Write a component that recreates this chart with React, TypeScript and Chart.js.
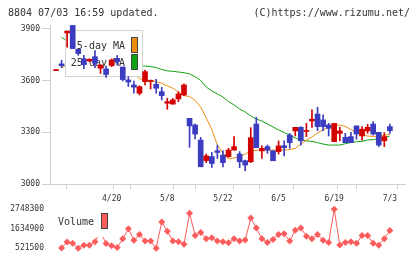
import React, { useEffect, useRef } from 'react';
import { Chart, registerables } from 'chart.js';

Chart.register(...registerables);

const FONT = '"DejaVu Sans Mono", monospace';
const RED = 'rgb(212,0,0)';
const BLUE = 'rgb(60,60,192)';
const ORANGE = 'rgb(240,140,16)';
const GREEN = 'rgb(16,165,16)';
const VOL = 'rgb(252,92,92)';
const AXIS = '#cfcfcf';
const TEXT = '#333';

// Daily candles; the first entry is the session before day 0
const candleOpen = [3658, 3697, 3877, 3920, 3782, 3727, 3714, 3739, 3672, 3668, 3688, 3729, 3679, 3604, 3575, 3527, 3594, 3595, 3579, 3536, 3469, 3464, 3494, 3517, 3381, 3343, 3255, 3136, 3159, 3193, 3168, 3159, 3197, 3174, 3135, 3129, 3348, 3192, 3217, 3193, 3188, 3222, 3284, 3308, 3329, 3305, 3366, 3406, 3372, 3343, 3246, 3294, 3271, 3275, 3337, 3279, 3308, 3348, 3300, 3251, 3333];
const candleHigh = [3662, 3718, 3887, 3920, 3782, 3747, 3727, 3775, 3691, 3685, 3726, 3746, 3679, 3624, 3598, 3570, 3662, 3604, 3608, 3561, 3498, 3498, 3536, 3581, 3381, 3348, 3271, 3174, 3183, 3226, 3192, 3207, 3275, 3188, 3139, 3327, 3387, 3221, 3226, 3193, 3250, 3250, 3294, 3329, 3333, 3352, 3430, 3445, 3401, 3352, 3352, 3329, 3294, 3300, 3337, 3333, 3347, 3362, 3300, 3298, 3348];
const candleLow = [3658, 3675, 3795, 3786, 3747, 3669, 3710, 3675, 3642, 3618, 3681, 3691, 3598, 3566, 3527, 3517, 3575, 3552, 3527, 3488, 3434, 3464, 3478, 3513, 3213, 3261, 3100, 3124, 3096, 3148, 3099, 3155, 3197, 3095, 3077, 3124, 3211, 3149, 3178, 3135, 3174, 3163, 3207, 3279, 3226, 3275, 3329, 3309, 3309, 3279, 3246, 3251, 3240, 3240, 3260, 3255, 3294, 3284, 3217, 3217, 3294];
const candleClose = [3662, 3687, 3887, 3786, 3757, 3693, 3724, 3701, 3691, 3636, 3720, 3711, 3606, 3592, 3562, 3565, 3652, 3600, 3556, 3513, 3478, 3488, 3523, 3575, 3337, 3290, 3100, 3163, 3119, 3183, 3124, 3197, 3217, 3129, 3110, 3269, 3211, 3207, 3197, 3135, 3221, 3211, 3240, 3329, 3251, 3311, 3376, 3333, 3333, 3323, 3352, 3308, 3240, 3240, 3290, 3318, 3329, 3290, 3226, 3275, 3309];

const ma5 = [3675, 3690, 3720, 3740, 3762, 3769, 3732, 3713, 3689, 3694, 3692, 3673, 3653, 3638, 3612, 3604, 3600, 3594, 3585, 3569, 3556, 3534, 3513, 3508, 3485, 3447, 3383, 3316, 3226, 3180, 3145, 3151, 3159, 3174, 3192, 3195, 3197, 3197, 3197, 3197, 3197, 3200, 3206, 3232, 3255, 3273, 3296, 3314, 3331, 3340, 3343, 3334, 3316, 3299, 3285, 3279, 3276, 3278, 3282, 3290];
const ma25 = [3851, 3830, 3822, 3814, 3804, 3793, 3782, 3771, 3760, 3749, 3737, 3723, 3708, 3697, 3688, 3684, 3682, 3676, 3665, 3657, 3654, 3650, 3646, 3639, 3623, 3601, 3563, 3540, 3523, 3505, 3479, 3459, 3435, 3418, 3395, 3377, 3366, 3348, 3331, 3314, 3299, 3284, 3267, 3255, 3250, 3247, 3240, 3232, 3226, 3226, 3226, 3234, 3241, 3245, 3248, 3255, 3258, 3262, 3270, 3279];

const volume = [530000, 875000, 802000, 521500, 690000, 690000, 897000, 1450000, 790000, 660000, 560000, 1065000, 1635000, 970000, 1307000, 931000, 931000, 525000, 2019000, 1492000, 931000, 897000, 746000, 2524000, 1251000, 1420000, 1065000, 1121000, 931000, 897000, 830000, 1065000, 931000, 987000, 2243000, 1682000, 1065000, 841000, 1026000, 1307000, 1345000, 931000, 1548000, 1682000, 1212000, 1065000, 1307000, 970000, 841000, 2748300, 707000, 841000, 897000, 802000, 1251000, 1251000, 802000, 690000, 1065000, 1531000];

const dateLabels = ['4/20', '5/8', '5/22', '6/5', '6/19', '7/3'];
const dateDays = [9, 19, 29, 39, 49, 59];
const priceTicks = [3000, 3300, 3600, 3900];
const volumeTicks = [521500, 1634900, 2748300];

const X_MIN = -2.08;
const X_MAX = 61.72;
const X_DIVISIONS = 11;

function MainChart() {
  const ref = useRef<HTMLCanvasElement>(null);
  useEffect(() => {
    if (!ref.current) return;
    const xs = candleOpen.map((_, i) => i - 1);
    const colors = candleOpen.map((o, i) => (candleClose[i] >= o ? RED : BLUE));
    const gridTicks: number[] = [];
    for (let k = 0; k <= X_DIVISIONS; k++) gridTicks.push(X_MIN + ((X_MAX - X_MIN) * k) / X_DIVISIONS);
    const isLabel = (v: number) => dateDays.some((d) => Math.abs(d - v) < 1e-6);

    const legendPlugin = {
      id: 'maLegend',
      beforeDatasetDraw(chart: any, args: any) {
        if (args.index !== 1) return;
        const ctx = chart.ctx;
        ctx.save();
        ctx.fillStyle = '#fff';
        ctx.fillRect(65, 30, 78, 47);
        ctx.strokeStyle = '#d4d4d4';
        ctx.lineWidth = 1;
        ctx.strokeRect(65.5, 30.5, 77, 46);
        ctx.font = `10px ${FONT}`;
        ctx.fillStyle = TEXT;
        ctx.textAlign = 'right';
        ctx.textBaseline = 'middle';
        ctx.fillText('5-day MA', 125, 46);
        ctx.fillText('25-day MA', 125, 63);
        ctx.fillStyle = ORANGE;
        ctx.fillRect(131.5, 37.5, 6, 15);
        ctx.fillStyle = GREEN;
        ctx.fillRect(131.5, 54.5, 6, 15);
        ctx.strokeStyle = '#444';
        ctx.strokeRect(131.5, 37.5, 6, 15);
        ctx.strokeRect(131.5, 54.5, 6, 15);
        ctx.restore();
      },
    };

    const chart = new Chart(ref.current, {
      type: 'bar',
      data: {
        datasets: [
          {
            type: 'bar',
            data: xs.map((x, i) => ({ x, y: [candleOpen[i], candleClose[i]] })) as any,
            backgroundColor: colors,
            barThickness: 5,
            grouped: false,
            borderWidth: 0,
            minBarLength: 1,
          },
          {
            type: 'bar',
            data: xs.map((x, i) => ({ x, y: [candleLow[i], candleHigh[i]] })) as any,
            backgroundColor: colors,
            barThickness: 1,
            grouped: false,
            borderWidth: 0,
            minBarLength: 1,
          },
          {
            type: 'line',
            data: ma5.map((v, i) => ({ x: i, y: v })) as any,
            borderColor: ORANGE,
            borderWidth: 1,
            pointRadius: 0,
            tension: 0,
          },
          {
            type: 'line',
            data: ma25.map((v, i) => ({ x: i, y: v })) as any,
            borderColor: GREEN,
            borderWidth: 1,
            pointRadius: 0,
            tension: 0,
          },
        ] as any,
      },
      options: {
        animation: false,
        responsive: false,
        maintainAspectRatio: false,
        events: [],
        layout: { padding: { top: 25, right: 15, left: 0, bottom: 0 } },
        plugins: { legend: { display: false }, tooltip: { enabled: false } },
        scales: {
          x: {
            type: 'linear',
            min: X_MIN,
            max: X_MAX,
            bounds: 'data',
            offset: false,
            afterBuildTicks: (s: any) => {
              const all = [...gridTicks, ...dateDays].sort((a, b) => a - b);
              s.ticks = all.map((v) => ({ value: v }));
            },
            afterFit: (s: any) => {
              s.height = 21;
            },
            grid: {
              drawOnChartArea: false,
              drawTicks: true,
              tickLength: 5,
              color: (c: any) => (c.tick && isLabel(c.tick.value) ? 'rgba(0,0,0,0)' : AXIS),
            },
            border: { display: true, color: AXIS },
            ticks: {
              autoSkip: false,
              maxRotation: 0,
              padding: 5,
              color: TEXT,
              font: { family: FONT, size: 8 },
              callback: (v: any) => {
                const j = dateDays.findIndex((d) => Math.abs(d - v) < 1e-6);
                return j >= 0 ? dateLabels[j] : '';
              },
            },
          } as any,
          y: {
            type: 'linear',
            min: 3000,
            max: 3923,
            bounds: 'data',
            afterBuildTicks: (s: any) => {
              s.ticks = priceTicks.map((v) => ({ value: v }));
            },
            afterFit: (s: any) => {
              s.width = 50;
            },
            grid: { drawOnChartArea: false, drawTicks: true, tickLength: 8, color: AXIS },
            border: { display: true, color: AXIS },
            ticks: { padding: 2, color: TEXT, font: { family: FONT, size: 8 }, callback: (v: any) => String(v) },
          } as any,
        },
      },
      plugins: [legendPlugin],
    });
    return () => chart.destroy();
  }, []);
  return (
    <canvas
      ref={ref}
      width={420}
      height={205}
      style={{ position: 'absolute', left: 0, top: 0, width: 420, height: 205 }}
    />
  );
}

function VolumeChart() {
  const ref = useRef<HTMLCanvasElement>(null);
  useEffect(() => {
    if (!ref.current) return;
    const legendPlugin = {
      id: 'volLegend',
      afterDatasetsDraw(chart: any) {
        const ctx = chart.ctx;
        ctx.save();
        ctx.fillStyle = '#fff';
        ctx.fillRect(54, 10, 56, 32);
        ctx.font = `10px ${FONT}`;
        ctx.fillStyle = TEXT;
        ctx.textAlign = 'left';
        ctx.textBaseline = 'middle';
        ctx.fillText('Volume', 58, 27.5);
        ctx.fillStyle = VOL;
        ctx.fillRect(101.5, 18.5, 6, 15);
        ctx.strokeStyle = '#444';
        ctx.lineWidth = 1;
        ctx.strokeRect(101.5, 18.5, 6, 15);
        ctx.restore();
      },
    };
    const chart = new Chart(ref.current, {
      type: 'line',
      data: {
        datasets: [
          {
            data: volume.map((v, i) => ({ x: i, y: v })) as any,
            borderColor: VOL,
            backgroundColor: VOL,
            borderWidth: 1,
            pointStyle: 'rectRot',
            pointRadius: 3.5,
            pointBackgroundColor: VOL,
            pointBorderWidth: 0,
            tension: 0,
            clip: false as any,
          },
        ],
      },
      options: {
        animation: false,
        responsive: false,
        maintainAspectRatio: false,
        events: [],
        layout: { padding: { top: 14, right: 15, left: 0, bottom: 10 } },
        plugins: { legend: { display: false }, tooltip: { enabled: false } },
        scales: {
          x: { type: 'linear', min: X_MIN, max: X_MAX, bounds: 'data', display: false } as any,
          y: {
            type: 'linear',
            min: 521500,
            max: 2765100,
            bounds: 'data',
            afterBuildTicks: (s: any) => {
              s.ticks = volumeTicks.map((v) => ({ value: v }));
            },
            afterFit: (s: any) => {
              s.width = 50;
            },
            grid: { display: false, drawTicks: false },
            border: { display: false },
            ticks: { padding: 6, color: TEXT, font: { family: FONT, size: 8 }, callback: (v: any) => String(v) },
          } as any,
        },
      },
      plugins: [legendPlugin],
    });
    return () => chart.destroy();
  }, []);
  return (
    <canvas
      ref={ref}
      width={420}
      height={64}
      style={{ position: 'absolute', left: 0, top: 195, width: 420, height: 64 }}
    />
  );
}

export default function App() {
  const titleStyle: React.CSSProperties = {
    position: 'absolute',
    top: 6,
    fontFamily: FONT,
    fontSize: 10,
    lineHeight: '13px',
    color: TEXT,
    whiteSpace: 'pre',
  };
  return (
    <div style={{ position: 'fixed', left: 0, top: 0, width: 420, height: 259, background: '#fff', overflow: 'hidden' }}>
      <MainChart />
      <VolumeChart />
      <div style={{ ...titleStyle, left: 8 }}>8804 07/03 16:59 updated.</div>
      <div style={{ ...titleStyle, right: 10 }}>(C)https://www.rizumu.net/</div>
    </div>
  );
}
